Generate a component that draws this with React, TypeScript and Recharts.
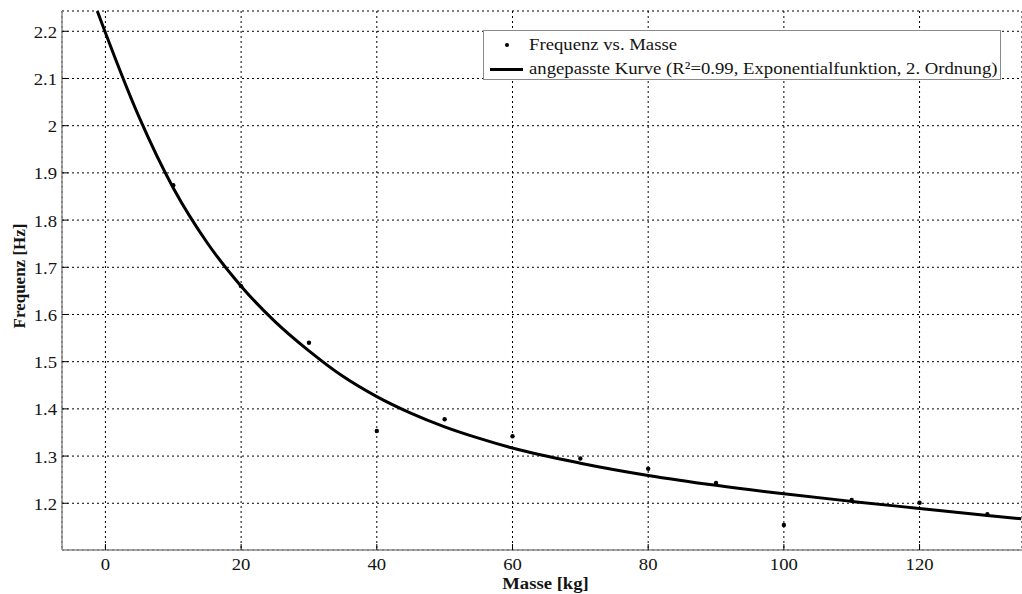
import React from 'react';
import { ComposedChart, Line, Scatter, XAxis, YAxis, CartesianGrid, Legend } from 'recharts';

// measured points
const pointMasses = [10, 20, 30, 40, 50, 60, 70, 80, 90, 100, 110, 120, 130];
const pointFreqs = [1.874, 1.660, 1.540, 1.353, 1.378, 1.342, 1.295, 1.273, 1.243, 1.154, 1.207, 1.201, 1.177];

// fitted curve
const curveMasses = [-1.2, 0, 5, 10, 15, 20, 25, 30, 35, 40, 45, 50, 55, 60, 70, 80, 90, 100, 110, 120, 130, 135];
const curveFreqs = [2.243, 2.197, 2.017, 1.868, 1.752, 1.660, 1.585, 1.523, 1.469, 1.426, 1.391, 1.362, 1.338, 1.317, 1.285, 1.259, 1.238, 1.220, 1.204, 1.189, 1.174, 1.167];

const xTicks = [0, 20, 40, 60, 80, 100, 120];
const yTicks = [1.2, 1.3, 1.4, 1.5, 1.6, 1.7, 1.8, 1.9, 2.0, 2.1, 2.2];

const points = pointMasses.map((x, i) => ({ x, y: pointFreqs[i] }));
const curve = curveMasses.map((x, i) => ({ x, y: curveFreqs[i] }));

const serif = '"Liberation Serif", "Times New Roman", serif';
const axisGray = '#8a8a8a';
const ink = '#141414';
// the original figure is stretched a bit sideways
const stretch = 'scale(1.1,1)';

const XTick = (props: any) => (
  <g transform={`translate(${props.x},${props.y})`}>
    <text transform={stretch} y={20} textAnchor="middle" fill={ink} fontFamily={serif} fontSize={17}>
      {props.payload.value}
    </text>
  </g>
);

const YTick = (props: any) => (
  <g transform={`translate(${props.x - 5},${props.y})`}>
    <text transform={stretch} y={6.5} textAnchor="end" fill={ink} fontFamily={serif} fontSize={17}>
      {String(Number(props.payload.value.toFixed(1)))}
    </text>
  </g>
);

const XLabel = ({ viewBox }: any) => (
  <g transform={`translate(${viewBox.x + viewBox.width / 2 + 3.5},${viewBox.y + 39})`}>
    <text transform={stretch} textAnchor="middle" fill={ink} fontFamily={serif} fontSize={17} fontWeight="bold">
      Masse [kg]
    </text>
  </g>
);

const YLabel = ({ viewBox }: any) => (
  <g transform={`translate(${viewBox.x + 25},${viewBox.y + viewBox.height / 2 - 4.5}) rotate(-90)`}>
    <text textAnchor="middle" fill={ink} fontFamily={serif} fontSize={17} fontWeight="bold">
      Frequenz [Hz]
    </text>
  </g>
);

const rowText: React.CSSProperties = {
  display: 'inline-block',
  whiteSpace: 'nowrap',
  transform: 'scaleX(1.1)',
  transformOrigin: 'left center',
};

const LegendBox = () => (
  <div
    style={{
      position: 'absolute',
      left: 483,
      top: 30,
      width: 518,
      height: 50,
      background: '#fff',
      border: `1.5px solid ${axisGray}`,
      fontFamily: serif,
      fontSize: 17,
      color: ink,
      boxSizing: 'border-box',
    }}
  >
    <div style={{ position: 'absolute', left: 0, top: 4, height: 20, display: 'flex', alignItems: 'center' }}>
      <span style={{ width: 45, display: 'flex', justifyContent: 'center' }}>
        <span style={{ width: 4, height: 4, borderRadius: 2, background: '#000', display: 'inline-block' }} />
      </span>
      <span style={rowText}>Frequenz vs. Masse</span>
    </div>
    <div style={{ position: 'absolute', left: 0, top: 28, height: 20, display: 'flex', alignItems: 'center' }}>
      <span style={{ width: 45, display: 'flex', justifyContent: 'center' }}>
        <span style={{ width: 33, height: 3, background: '#000', display: 'inline-block' }} />
      </span>
      <span style={rowText}>angepasste Kurve (R²=0.99, Exponentialfunktion, 2. Ordnung)</span>
    </div>
  </div>
);

const Dot = (props: any) => <circle cx={props.cx} cy={props.cy} r={2.2} fill="#000" />;

export default function App() {
  return (
    <div style={{ position: 'absolute', left: 0, top: 0, width: 1022, height: 594, background: '#fff' }}>
      <ComposedChart width={1022} height={594} margin={{ top: 11, right: 0, left: 0, bottom: 0 }}>
        <CartesianGrid stroke="#000" strokeWidth={1} strokeDasharray="2 3" />
        <XAxis
          xAxisId="top"
          orientation="top"
          type="number"
          dataKey="x"
          domain={[-6.4, 135.1]}
          height={0}
          tick={false}
          tickLine={false}
          axisLine={{ stroke: axisGray, strokeWidth: 1.5 }}
        />
        <XAxis
          type="number"
          dataKey="x"
          domain={[-6.4, 135.1]}
          ticks={xTicks}
          allowDataOverflow
          height={44}
          tickSize={-6}
          tickMargin={6}
          tickLine={{ stroke: '#000' }}
          axisLine={{ stroke: axisGray, strokeWidth: 1.5 }}
          tick={<XTick />}
          label={<XLabel />}
        />
        <YAxis
          type="number"
          dataKey="y"
          domain={[1.101, 2.243]}
          ticks={yTicks}
          allowDataOverflow
          width={62}
          tickSize={-6}
          tickMargin={6}
          tickLine={{ stroke: '#000' }}
          axisLine={{ stroke: axisGray, strokeWidth: 1.5 }}
          tick={<YTick />}
          label={<YLabel />}
        />
        <Line
          data={curve}
          dataKey="y"
          type="monotone"
          stroke="#000"
          strokeWidth={3}
          dot={false}
          activeDot={false}
          isAnimationActive={false}
          legendType="none"
        />
        <Scatter data={points} dataKey="y" shape={<Dot />} isAnimationActive={false} legendType="none" />
        <Legend content={() => <LegendBox />} wrapperStyle={{ position: 'absolute', left: 0, top: 0, width: 0, height: 0 }} />
      </ComposedChart>
    </div>
  );
}
